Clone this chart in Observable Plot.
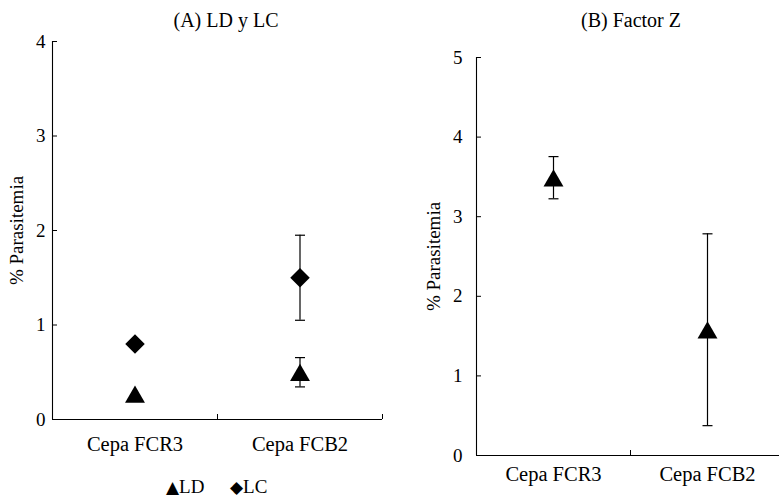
<!DOCTYPE html>
<html><head><meta charset="utf-8">
<script src="https://cdn.jsdelivr.net/npm/d3@7"></script>
<script src="https://cdn.jsdelivr.net/npm/@observablehq/plot@0.6"></script>
<style>
body{margin:0;background:#fff;}
#wrap{position:relative;width:779px;height:496px;overflow:hidden;background:#fff;color:#000;}
#wrap svg{position:absolute;top:0;}
.t{position:absolute;font-family:'Liberation Serif';font-size:20px;line-height:22px;white-space:nowrap;transform:translateX(-50%);}
.lg{position:absolute;font-family:'Liberation Serif';font-size:19px;line-height:20px;white-space:nowrap;}
</style></head><body><div id="wrap"></div>
<script>
const categories = ["Cepa FCR3", "Cepa FCB2"];
const ldMean = [0.27, 0.50];
const ldErr = [null, 0.155];
const lcMean = [0.80, 1.50];
const lcErr = [null, 0.45];
const zMean = [3.49, 1.58];
const zErr = [0.265, 1.205];
const yTicksA = [0, 1, 2, 3, 4];
const yTicksB = [0, 1, 2, 3, 4, 5];
const titles = ["(A) LD y LC", "(B) Factor Z"];
const yLabel = "% Parasitemia";
const legendItems = [{sym: "\u25B2", name: "LD"}, {sym: "\u25C6", name: "LC"}];

const FONT = "Liberation Serif";

function rowsOf(mean, err, symbol) {
  return categories.map((c, i) => ({cat: c, idx: i, mean: mean[i], err: err[i], symbol}));
}
const capSymbol = {draw(ctx) { ctx.moveTo(-5, 0); ctx.lineTo(5, 0); }};

function panel({rows, yMax, yTicks, width, height, mt, mb, ml, mr, tickPad, labelPad, yLabelDx}) {
  const xOf = d => d.idx + 0.5;
  const withErr = rows.filter(d => d.err != null);
  const caps = withErr.flatMap(d => [{idx: d.idx, v: d.mean - d.err}, {idx: d.idx, v: d.mean + d.err}]);
  const svg = Plot.plot({
    width, height, marginTop: mt, marginBottom: mb, marginLeft: ml, marginRight: mr,
    style: {background: "transparent", overflow: "visible"},
    x: {domain: [0, categories.length]},
    y: {domain: [0, yMax]},
    marks: [
      Plot.ruleY([0], {stroke: "black", strokeWidth: 1.1}),
      Plot.ruleX([0], {stroke: "black", strokeWidth: 1.1}),
      Plot.axisY(yTicks, {tickSize: -5, tickPadding: tickPad + 5, tickFormat: d => String(d), stroke: "black", fill: "black", fontSize: 19}),
      Plot.axisX(categories.map((c, i) => i + 1), {tickSize: -5, tickFormat: () => "", stroke: "black"}),
      Plot.axisX(categories.map((c, i) => i + 0.5), {tickSize: 0, tickPadding: labelPad, tickFormat: d => categories[Math.floor(d)], fill: "black", fontSize: 20.5}),
      Plot.text([yLabel], {frameAnchor: "left", textAnchor: "middle", rotate: -90, dx: yLabelDx, fill: "black", fontSize: 19}),
      Plot.ruleX(withErr, {x: xOf, y1: d => d.mean - d.err, y2: d => d.mean + d.err, stroke: "black", strokeWidth: 1.2}),
      Plot.dot(caps, {x: d => d.idx + 0.5, y: "v", symbol: capSymbol, r: 5, fill: "none", stroke: "black", strokeWidth: 1.2}),
      Plot.dot(rows.filter(d => d.symbol === "triangle"), {x: xOf, y: "mean", symbol: "triangle", r: 7.4, fill: "black", stroke: "none", dy: 3}),
      Plot.dot(rows.filter(d => d.symbol === "diamond2"), {x: xOf, y: "mean", symbol: "diamond2", r: 8.8, fill: "black", stroke: "none"})
    ]
  });
  svg.setAttribute("font-family", FONT);
  svg.style.fontFamily = FONT;
  svg.querySelectorAll("text").forEach(t => t.setAttribute("font-family", FONT));
  return svg;
}

const wrap = document.getElementById("wrap");
const left = panel({
  rows: [...rowsOf(ldMean, ldErr, "triangle"), ...rowsOf(lcMean, lcErr, "diamond2")],
  yMax: 4, yTicks: yTicksA, width: 390, height: 496, mt: 41, mb: 77, ml: 52, mr: 8,
  tickPad: 7, labelPad: 17, yLabelDx: -36
});
left.style.left = "0px";
wrap.appendChild(left);

const right = panel({
  rows: rowsOf(zMean, zErr, "triangle"),
  yMax: 5, yTicks: yTicksB, width: 394, height: 496, mt: 57, mb: 41, ml: 86, mr: 0,
  tickPad: 14, labelPad: 11, yLabelDx: -43
});
right.style.left = "390px";
wrap.appendChild(right);

[[titles[0], 226], [titles[1], 631]].forEach(([t, cx]) => {
  const d = document.createElement("div");
  d.className = "t"; d.textContent = t; d.style.left = cx + "px"; d.style.top = "9px";
  wrap.appendChild(d);
});
legendItems.forEach((it, i) => {
  const d = document.createElement("div");
  d.className = "lg";
  d.innerHTML = `<span style="font-family:'DejaVu Sans';font-size:17px">${it.sym}</span>${it.name}`;
  d.style.left = (166 + i * 64) + "px"; d.style.top = "477px";
  wrap.appendChild(d);
});
</script></body></html>
